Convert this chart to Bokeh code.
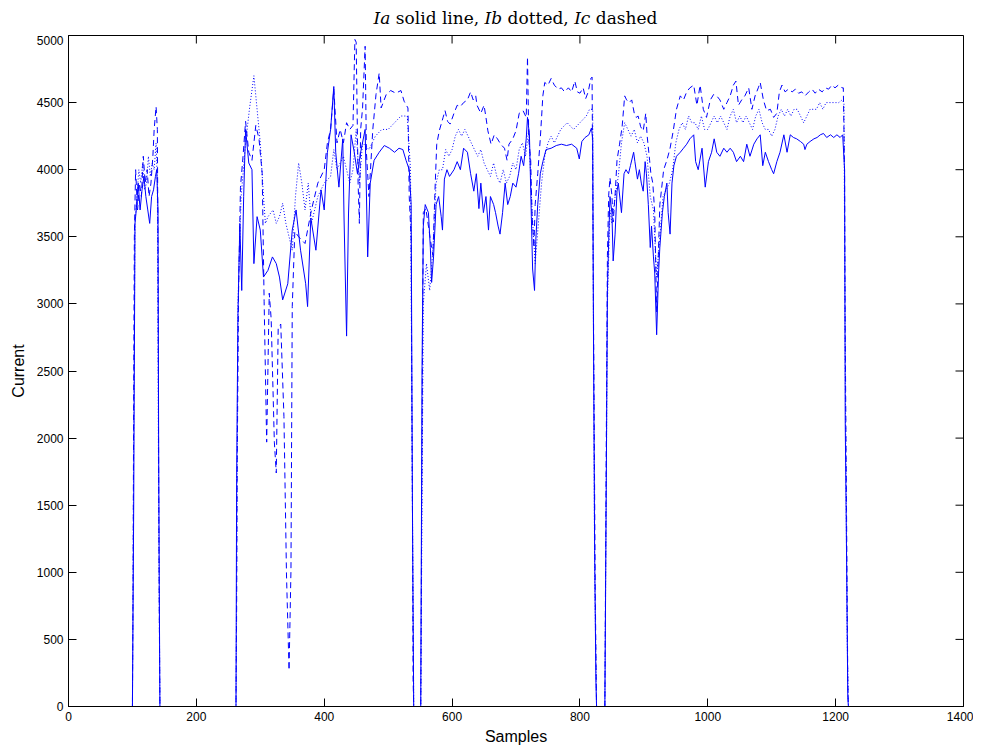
from bokeh.plotting import figure
from bokeh.models import Range1d, FixedTicker, Div
from bokeh.layouts import column
from bokeh.embed import file_html
from bokeh.resources import INLINE

# ---- data (sample index, value) ----
ia_points = [
    (0, 0), (100, 0), (102, 1500), (104, 3600), (106, 3700), (109, 3900), (112, 3700), (115, 3850),
    (118, 3950), (121, 3800), (124, 3700), (127, 3600), (130, 3800), (133, 3850), (136, 3950),
    (138, 4000), (140, 3700), (141, 2000), (142, 900), (143, 0),
    (262, 0), (263, 1700), (265, 2900), (268, 3600), (271, 3100), (274, 3800), (277, 4300), (282, 4050),
    (287, 4000), (290, 3300), (295, 3650), (300, 3550), (305, 3200), (312, 3250), (319, 3350),
    (325, 3300), (330, 3200), (335, 3030), (343, 3150), (350, 3550), (356, 3700), (363, 3400),
    (371, 3150), (374, 2980), (379, 3640), (387, 3400), (395, 3850), (400, 3700), (405, 4130),
    (410, 4300), (415, 4620), (418, 4130), (423, 3870), (429, 4230), (431, 3640), (435, 2760),
    (438, 3670), (442, 4260), (447, 4130), (452, 3970), (457, 4130), (464, 4300), (468, 3350),
    (472, 3900), (478, 4070), (486, 4130), (494, 4180), (502, 4160), (510, 4130), (517, 4160),
    (523, 4150), (528, 4070), (533, 4000), (536, 3740), (538, 1500), (540, 0),
    (551, 0), (553, 2500), (555, 3580), (558, 3740), (563, 3680), (566, 3420), (568, 3160), (571, 3350),
    (575, 3740), (579, 3800), (583, 3650), (585, 3550), (588, 3930), (592, 4000), (596, 3950),
    (603, 4000), (608, 4060), (613, 4000), (618, 4160), (624, 4130), (629, 3970), (634, 3840),
    (638, 3970), (642, 3710), (645, 3900), (649, 3680), (653, 3800), (657, 3550), (660, 3800),
    (665, 3740), (668, 3680), (672, 3580), (675, 3520), (679, 3680), (683, 3900), (687, 3740),
    (691, 3800), (695, 3900), (700, 3870), (704, 3970), (708, 4100), (712, 4030), (716, 4230),
    (718, 4390), (721, 4260), (724, 3650), (726, 3260), (729, 3100), (731, 3480), (734, 3740),
    (738, 3970), (742, 4060), (747, 4150), (755, 4160), (763, 4180), (771, 4190), (779, 4180),
    (787, 4190), (795, 4160), (799, 4080), (803, 4210), (808, 4240), (814, 4260), (818, 4310),
    (820, 4230), (821, 2970), (823, 1160), (825, 190), (826, 0),
    (839, 0), (841, 1480), (843, 3100), (845, 3480), (847, 3800), (850, 3680), (852, 3320), (855, 3520),
    (858, 3840), (860, 3900), (865, 3680), (869, 3970), (872, 4000), (876, 3970), (879, 4030),
    (884, 4130), (886, 4060), (890, 3930), (893, 4000), (896, 3900), (899, 3840), (902, 4060),
    (904, 3970), (907, 3740), (910, 3420), (912, 3580), (915, 3350), (917, 3230), (920, 2770),
    (923, 3230), (925, 3420), (929, 3680), (932, 3800), (936, 3900), (938, 3680), (941, 3520),
    (944, 3900), (947, 4030), (951, 4100), (957, 4130), (962, 4160), (967, 4190), (972, 4230),
    (978, 4260), (981, 4060), (985, 4000), (991, 4160), (996, 3870), (1001, 4060), (1006, 4130),
    (1010, 4230), (1014, 4130), (1019, 4100), (1025, 4160), (1030, 4130), (1035, 4160), (1040, 4130),
    (1045, 4060), (1051, 4100), (1056, 4060), (1061, 4190), (1066, 4100), (1072, 4190), (1077, 4230),
    (1082, 4260), (1086, 4030), (1090, 4130), (1095, 4060), (1100, 4000), (1103, 3970), (1108, 4060),
    (1113, 4130), (1119, 4260), (1124, 4130), (1129, 4260), (1134, 4240), (1139, 4230), (1145, 4210),
    (1150, 4190), (1152, 4150), (1155, 4190), (1160, 4210), (1166, 4230), (1171, 4240), (1176, 4260),
    (1181, 4270), (1186, 4240), (1192, 4260), (1197, 4240), (1202, 4260), (1207, 4240), (1211, 4260),
    (1214, 4000), (1215, 2130), (1217, 1160), (1219, 65), (1220, 0), (1265, 0),
]

ib_points = [
    (0, 0), (100, 0), (102, 2000), (104, 3600), (107, 3800), (110, 4000), (113, 3900), (116, 4050),
    (119, 3850), (122, 3900), (125, 4100), (128, 3950), (131, 4050), (134, 4000), (137, 4200),
    (139, 3900), (141, 1500), (143, 0),
    (262, 0), (265, 3000), (270, 3800), (277, 4200), (283, 4450), (290, 4700), (295, 4450), (300, 4200),
    (305, 3800), (308, 3600), (312, 3650), (320, 3700), (325, 3600), (330, 3650), (335, 3750),
    (340, 3600), (345, 3500), (350, 3400), (355, 3800), (360, 4050), (365, 3900), (370, 3700),
    (375, 3900), (380, 3600), (390, 3800), (400, 3900), (410, 3950), (415, 4150), (420, 4000),
    (430, 4100), (440, 3900), (445, 4000), (450, 4300), (455, 3900), (460, 4200), (470, 4150),
    (480, 4250), (490, 4300), (500, 4300), (510, 4350), (520, 4400), (530, 4400), (535, 4000),
    (538, 1500), (540, 0),
    (551, 0), (555, 3000), (560, 3300), (565, 3100), (570, 3400), (575, 3900), (580, 4000), (585, 4000),
    (590, 4150), (595, 4100), (600, 4150), (605, 4250), (610, 4300), (615, 4250), (620, 4300),
    (625, 4250), (630, 4200), (635, 4150), (640, 4100), (645, 4150), (650, 4050), (655, 4000),
    (660, 3950), (665, 4050), (670, 3950), (675, 3900), (680, 4000), (685, 3900), (690, 3950),
    (695, 4050), (700, 4000), (705, 4150), (710, 4200), (715, 4100), (720, 4300), (725, 3700),
    (730, 3300), (735, 3600), (740, 3900), (745, 4100), (750, 4200), (755, 4250), (760, 4200),
    (765, 4250), (770, 4300), (780, 4350), (790, 4300), (800, 4350), (810, 4400), (815, 4450),
    (820, 4450), (821, 3000), (823, 1000), (826, 0),
    (839, 0), (843, 3000), (847, 3700), (850, 3600), (855, 3800), (860, 3950), (865, 4200), (870, 4350),
    (875, 4300), (880, 4250), (885, 4300), (890, 4200), (895, 4250), (900, 4200), (905, 4100),
    (910, 3800), (915, 3700), (920, 3200), (925, 3500), (930, 3800), (935, 3850), (940, 3900),
    (945, 4000), (950, 4200), (955, 4300), (960, 4350), (965, 4300), (970, 4400), (975, 4350),
    (980, 4350), (985, 4300), (990, 4400), (995, 4300), (1000, 4300), (1005, 4350), (1010, 4400),
    (1015, 4350), (1020, 4400), (1025, 4350), (1030, 4300), (1035, 4400), (1040, 4450), (1045, 4350),
    (1050, 4400), (1055, 4350), (1060, 4400), (1065, 4350), (1070, 4300), (1075, 4400), (1080, 4450),
    (1085, 4350), (1090, 4300), (1095, 4300), (1100, 4250), (1105, 4300), (1110, 4400), (1115, 4450),
    (1120, 4400), (1125, 4450), (1130, 4400), (1135, 4450), (1140, 4450), (1145, 4400), (1150, 4350),
    (1155, 4400), (1160, 4450), (1165, 4450), (1170, 4450), (1175, 4500), (1180, 4450), (1185, 4500),
    (1190, 4500), (1195, 4500), (1200, 4500), (1205, 4500), (1210, 4520), (1213, 4500), (1215, 2500),
    (1218, 500), (1220, 0), (1265, 0),
]

ic_points = [
    (0, 0), (100, 0), (101, 900), (102, 2400), (103, 3500), (105, 4000), (108, 3700), (111, 3900),
    (114, 3800), (117, 4100), (120, 3900), (123, 4000), (126, 3800), (129, 3900), (132, 4100),
    (134, 4300), (137, 4470), (139, 4300), (140, 3400), (141, 1800), (142, 700), (143, 0),
    (262, 0), (263, 700), (264, 1840), (266, 3080), (269, 3870), (273, 4100), (277, 4360), (282, 4130),
    (287, 4070), (293, 4330), (298, 4230), (303, 3970), (306, 3020), (310, 1970), (314, 3080),
    (317, 2890), (322, 1970), (325, 1740), (328, 2820), (332, 2850), (337, 2160), (341, 980),
    (345, 270), (348, 1020), (350, 2980), (354, 3540), (360, 3500), (370, 3450), (380, 3700),
    (390, 3900), (400, 4000), (405, 4200), (410, 4300), (415, 4600), (420, 4200), (425, 4300),
    (430, 4200), (435, 4350), (440, 4300), (445, 4330), (448, 4970), (450, 4950), (453, 3900),
    (455, 3600), (457, 4300), (460, 4460), (464, 4920), (466, 4130), (470, 3800), (476, 4300),
    (481, 4560), (486, 4720), (489, 4460), (497, 4560), (504, 4590), (512, 4570), (520, 4590),
    (525, 4510), (531, 4460), (533, 3800), (536, 3480), (537, 2330), (538, 1500), (539, 200), (540, 0),
    (551, 0), (553, 2000), (555, 3680), (559, 3710), (563, 3580), (566, 3480), (570, 3360), (573, 3810),
    (576, 4190), (580, 4290), (586, 4390), (589, 4440), (593, 4360), (597, 4340), (603, 4420),
    (608, 4480), (613, 4470), (618, 4500), (624, 4520), (629, 4580), (633, 4520), (637, 4550),
    (639, 4480), (645, 4420), (650, 4480), (653, 4390), (656, 4290), (661, 4190), (666, 4260),
    (671, 4230), (676, 4190), (682, 4160), (686, 4070), (689, 4190), (695, 4230), (700, 4290),
    (705, 4420), (711, 4440), (716, 4390), (718, 4840), (720, 4230), (723, 4070), (725, 3680),
    (728, 3420), (730, 3740), (734, 3970), (738, 4230), (742, 4550), (745, 4650), (750, 4630),
    (755, 4680), (760, 4630), (766, 4600), (771, 4610), (776, 4580), (782, 4610), (787, 4580),
    (792, 4660), (796, 4580), (800, 4570), (805, 4610), (809, 4530), (813, 4580), (817, 4680),
    (819, 4690), (821, 3100), (822, 2360), (824, 840), (826, 0),
    (839, 0), (841, 1810), (843, 3360), (845, 3810), (847, 3940), (850, 3810), (852, 3610), (855, 3810),
    (858, 4070), (862, 4190), (866, 4320), (870, 4550), (873, 4520), (877, 4500), (881, 4520),
    (885, 4420), (888, 4390), (891, 4400), (895, 4320), (899, 4290), (903, 4420), (905, 4260),
    (909, 4070), (911, 3970), (914, 3900), (917, 3680), (920, 2940), (923, 3420), (925, 3740),
    (931, 4000), (936, 4070), (941, 4160), (946, 4290), (951, 4450), (957, 4550), (962, 4520),
    (967, 4580), (972, 4610), (978, 4630), (983, 4480), (988, 4630), (993, 4450), (998, 4390),
    (1004, 4520), (1009, 4560), (1014, 4550), (1019, 4520), (1025, 4450), (1030, 4500), (1035, 4550),
    (1040, 4630), (1044, 4660), (1048, 4480), (1053, 4520), (1058, 4550), (1064, 4610), (1069, 4450),
    (1074, 4550), (1079, 4610), (1082, 4650), (1087, 4520), (1092, 4440), (1098, 4450), (1103, 4390),
    (1108, 4420), (1112, 4580), (1116, 4630), (1121, 4580), (1126, 4600), (1132, 4580), (1137, 4600),
    (1142, 4570), (1147, 4580), (1152, 4550), (1158, 4580), (1163, 4600), (1168, 4570), (1173, 4600),
    (1179, 4580), (1184, 4610), (1189, 4600), (1194, 4630), (1199, 4610), (1204, 4630), (1210, 4610),
    (1212, 4610), (1214, 3970), (1215, 2770), (1217, 1480), (1219, 190), (1220, 0), (1265, 0),
]

x_ticks = [0, 200, 400, 600, 800, 1000, 1200, 1400]
y_ticks = [0, 500, 1000, 1500, 2000, 2500, 3000, 3500, 4000, 4500, 5000]
title_parts = [("Ia", "italic"), (" solid line, ", "normal"), ("Ib", "italic"),
               (" dotted, ", "normal"), ("Ic", "italic"), (" dashed", "normal")]

X_MAX, Y_MAX = 1400, 5000
FRAME_W, FRAME_H = 895, 671
LEFT, RIGHT, TOP, BOTTOM = 68, 10, 35, 45
TICK_PX = 8
BLUE = "#0000ff"
TICK_FONT = "Liberation Sans Narrow, Liberation Sans, Arial, sans-serif"

p = figure(frame_width=FRAME_W, frame_height=FRAME_H,
           x_range=Range1d(0, X_MAX), y_range=Range1d(0, Y_MAX),
           output_backend="svg", toolbar_location=None,
           min_border_left=LEFT, min_border_right=RIGHT, min_border_top=0, min_border_bottom=BOTTOM,
           background_fill_color="white", border_fill_color="white")
p.xgrid.visible = False
p.ygrid.visible = False
p.outline_line_color = "black"
p.outline_line_width = 1

for ax, ticks in ((p.xaxis[0], x_ticks), (p.yaxis[0], y_ticks)):
    ax.ticker = FixedTicker(ticks=ticks, minor_ticks=[])
    ax.major_tick_in = TICK_PX
    ax.major_tick_out = 0
    ax.minor_tick_in = 0
    ax.minor_tick_out = 0
    ax.axis_line_color = "black"
    ax.major_tick_line_color = "black"
    ax.major_label_text_font = TICK_FONT
    ax.major_label_text_font_size = "12px"
    ax.major_label_text_color = "black"
    ax.axis_label_text_font = "Liberation Sans"
    ax.axis_label_text_font_size = "16px"
    ax.axis_label_text_font_style = "normal"
    ax.axis_label_text_color = "black"

p.xaxis.axis_label = "Samples"
p.yaxis.axis_label = "Current"
p.xaxis.major_label_standoff = 5
p.xaxis.axis_label_standoff = 4
p.yaxis.major_label_standoff = 5
p.yaxis.axis_label_standoff = 7

# tick marks on the top and right sides of the box (MATLAB style), from the tick arrays
dy = TICK_PX * Y_MAX / FRAME_H
dx = TICK_PX * X_MAX / FRAME_W
p.segment(x0=x_ticks, y0=[Y_MAX] * len(x_ticks), x1=x_ticks, y1=[Y_MAX - dy] * len(x_ticks),
          line_color="black", line_width=1)
p.segment(x0=[X_MAX] * len(y_ticks), y0=y_ticks, x1=[X_MAX - dx] * len(y_ticks), y1=y_ticks,
          line_color="black", line_width=1)

styles = [(ia_points, "solid"), (ib_points, "1 2"), (ic_points, "6 4")]
for pts, dash in styles:
    xs = [a for a, b in pts]
    ys = [b for a, b in pts]
    p.line(xs, ys, line_color=BLUE, line_width=1, line_dash=dash)

title_html = "".join(f"<i>{t}</i>" if s == "italic" else t.replace(" ", "&nbsp;")
                     for t, s in title_parts)
title = Div(text=(f'<div style="box-sizing:border-box;width:{LEFT + FRAME_W}px;padding-left:{LEFT}px;'
                  f'padding-top:10px;text-align:center;font-family:\'DejaVu Serif\',serif;font-size:17px;'
                  f'line-height:17px;color:black;white-space:nowrap;">{title_html}</div>'),
            width=LEFT + FRAME_W + RIGHT, height=TOP, margin=0)

layout = column(title, p, spacing=0)
open("out.html", "w").write(file_html(layout, INLINE))
